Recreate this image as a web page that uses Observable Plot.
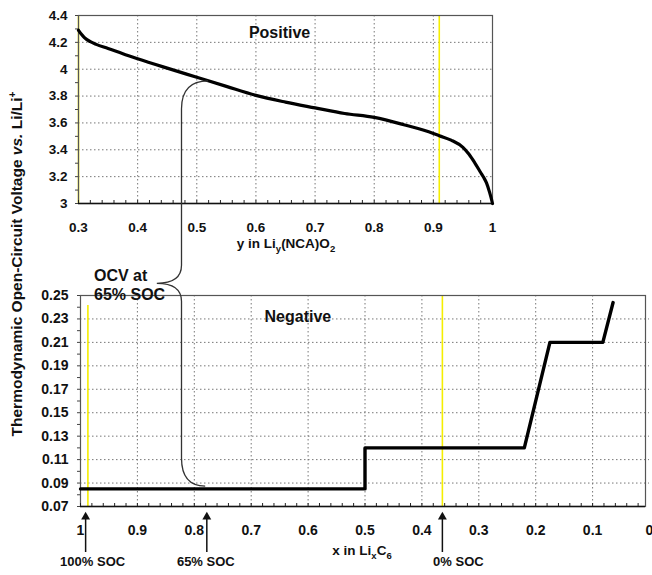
<!DOCTYPE html>
<html><head><meta charset="utf-8">
<script src="https://cdn.jsdelivr.net/npm/d3@7"></script>
<script src="https://cdn.jsdelivr.net/npm/@observablehq/plot@0.6"></script>
<style>
body{margin:0;background:#fff;}
#wrap{position:relative;width:652px;height:575px;font-family:"Liberation Sans",Arial,sans-serif;}
#wrap svg{position:absolute;left:0;}
</style></head><body><div id="wrap"></div>
<script>
// ---- Positive electrode (top) ----
const posY = [0.3, 0.305, 0.31, 0.32, 0.33, 0.35, 0.375, 0.4, 0.45, 0.5, 0.55, 0.6, 0.65, 0.7, 0.75, 0.8, 0.85, 0.9, 0.91, 0.93, 0.95, 0.96, 0.97, 0.98, 0.985, 0.99, 0.995, 0.9975, 1.0];
const posV = [4.29, 4.26, 4.235, 4.205, 4.185, 4.155, 4.115, 4.078, 4.008, 3.94, 3.872, 3.805, 3.755, 3.712, 3.67, 3.641, 3.587, 3.522, 3.505, 3.472, 3.418, 3.368, 3.303, 3.231, 3.195, 3.152, 3.085, 3.045, 3.0];
// ---- Negative electrode (bottom) ----
const negX = [1.0, 0.5, 0.5, 0.22, 0.175, 0.082, 0.064];
const negV = [0.085, 0.085, 0.12, 0.12, 0.21, 0.21, 0.244];
// ---- ticks ----
const topXTicks = [0.3, 0.4, 0.5, 0.6, 0.7, 0.8, 0.9, 1];
const topYTicks = [3, 3.2, 3.4, 3.6, 3.8, 4, 4.2, 4.4];
const botXTicks = [1, 0.9, 0.8, 0.7, 0.6, 0.5, 0.4, 0.3, 0.2, 0.1, 0];
const botYTicks = [0.07, 0.09, 0.11, 0.13, 0.15, 0.17, 0.19, 0.21, 0.23, 0.25];
// ---- markers ----
const topYellowX = [0.3, 0.91];
const botYellowX = [0.987, 0.364];
const botYellowTop = [0.2415, 0.25];
const socX = [0.991, 0.778, 0.364];
const socLabels = ["100% SOC", "65% SOC", "0% SOC"];
const panelTitles = ["Positive", "Negative"];

const fmt = d => String(+d.toFixed(2));
const topMinorX = d3.range(0.3, 1.0001, 0.02).map(d => +d.toFixed(3));
const botMinorX = d3.range(0.02, 1.0001, 0.02).map(d => +d.toFixed(3));
const topMinorY = d3.range(3, 4.4001, 0.1).map(d => +d.toFixed(3));
const botMinorY = d3.range(0.07, 0.2501, 0.01).map(d => +d.toFixed(3));

const gridOpts = {stroke: "#777", strokeOpacity: 1, strokeWidth: 1, strokeDasharray: "1.5,2.5"};
const font = "Liberation Sans, Arial, sans-serif";
const W = 652;

const posData = posY.map((y, i) => ({y, v: posV[i]}));
const negData = negX.map((x, i) => ({x, v: negV[i]}));

const topLab = {fontSize: 13.5, fontWeight: "bold", fontFamily: font, fill: "#111"};
const botLab = {fontSize: 14, fontWeight: "bold", fontFamily: font, fill: "#111"};

const topPlot = Plot.plot({
  width: W, height: 270, marginLeft: 78, marginRight: 160, marginTop: 15, marginBottom: 67,
  style: {fontFamily: font, fontWeight: "bold", fontSize: "13.5px", background: "transparent", color: "#111", overflow: "visible"},
  x: {domain: [0.3, 1], axis: null, label: null},
  y: {domain: [3, 4.4], axis: null, label: null},
  marks: [
    Plot.gridX(topXTicks.slice(1, -1), gridOpts),
    Plot.gridY(topYTicks.slice(1, -1), gridOpts),
    Plot.ruleX(topYellowX, {stroke: "#f5ee00", strokeWidth: 1.6}),
    Plot.frame({stroke: "#555", strokeWidth: 1.2}),
    Plot.ruleY([3], {stroke: "#111", strokeWidth: 1.6}),
    Plot.axisX(topMinorX, {tickSize: 3, dy: -3, tickFormat: () => "", stroke: "#222"}),
    Plot.axisX(topXTicks, {tickSize: 0, tickPadding: 19, tickFormat: fmt, ...topLab}),
    Plot.axisY(topMinorY, {tickSize: 3, tickFormat: () => "", stroke: "#444"}),
    Plot.axisY(topYTicks, {tickSize: 0, tickPadding: 11, tickFormat: fmt, ...topLab}),
    Plot.line(posData, {x: "y", y: "v", stroke: "#000", strokeWidth: 3.2, curve: "monotone-x"}),
    Plot.text([panelTitles[0]], {x: 0.64, y: 4.273, fontSize: 16, fontWeight: "bold", fill: "#111"})
  ]
});

const botPlot = Plot.plot({
  width: W, height: 305, marginLeft: 80, marginRight: 3, marginTop: 25, marginBottom: 69,
  style: {fontFamily: font, fontWeight: "bold", fontSize: "14px", background: "transparent", color: "#111", overflow: "visible"},
  x: {domain: [1, 0], axis: null, label: null},
  y: {domain: [0.07, 0.25], axis: null, label: null},
  marks: [
    Plot.gridX(botXTicks.slice(1, -1), gridOpts),
    Plot.gridY(botYTicks.slice(1, -1), gridOpts),
    Plot.ruleX(botYellowX.map((x, i) => ({x, top: botYellowTop[i]})), {x: "x", y1: 0.07, y2: "top", stroke: "#f5ee00", strokeWidth: 1.6}),
    Plot.frame({stroke: "#555", strokeWidth: 1.2, insetRight: 4}),
    Plot.ruleY([0.07], {stroke: "#111", strokeWidth: 1.6, insetRight: 4}),
    Plot.axisX(botMinorX, {tickSize: 3, dy: -3, tickFormat: () => "", stroke: "#222"}),
    Plot.axisX(botXTicks, {tickSize: 0, tickPadding: 19, tickFormat: fmt, ...botLab}),
    Plot.axisY(botMinorY, {tickSize: 3, tickFormat: () => "", stroke: "#444"}),
    Plot.axisY(botYTicks, {tickSize: 0, tickPadding: 12, tickFormat: fmt, ...botLab}),
    Plot.line(negData, {x: "x", y: "v", stroke: "#000", strokeWidth: 3.4}),
    Plot.text([panelTitles[1]], {x: 0.618, y: 0.232, fontSize: 16, fontWeight: "bold", fill: "#111"}),
    // SOC arrows
    Plot.ruleX(socX, {insetTop: 221, insetBottom: -46, stroke: "#111", strokeWidth: 1.5}),
    Plot.dot(socX, {x: d => d, frameAnchor: "bottom", dy: 10.5, symbol: "triangle", r: 3.3, fill: "#111", stroke: "none"}),
    ...socLabels.map((lab, i) => Plot.text([lab], {x: socX[i], frameAnchor: "bottom", dy: 59, dx: [7, -1, 16][i], fontSize: 13, fontWeight: "bold", fill: "#111"}))
  ]
});

const wrap = document.getElementById("wrap");
topPlot.style.top = "0px";
botPlot.style.top = "270px";
wrap.appendChild(topPlot);
wrap.appendChild(botPlot);

// overlay: shared y label, x labels with subscripts, brace annotation
const tx = topPlot.scale("x"), ty = topPlot.scale("y");
const bx = botPlot.scale("x"), by = botPlot.scale("y");
const A = [tx.apply(0.52), ty.apply(3.91)];
const X = tx.apply(0.475);
const T = [bx.apply(0.865), by.apply(0.26) + 270];
const B = [bx.apply(0.78), by.apply(0.087) + 270];

const ov = d3.select(wrap).append("svg")
  .attr("width", W).attr("height", 575)
  .style("top", "0px").style("pointer-events", "none")
  .style("font-family", font).style("font-weight", "bold");

const p = d3.path();
p.moveTo(A[0], A[1]);
p.quadraticCurveTo(X, A[1], X, A[1] + 28);
p.lineTo(X, T[1] - 18);
p.quadraticCurveTo(X, T[1], T[0], T[1]);
p.quadraticCurveTo(X, T[1], X, T[1] + 18);
p.lineTo(X, B[1] - 28);
p.quadraticCurveTo(X, B[1], B[0], B[1]);
ov.append("path").attr("d", p.toString()).attr("fill", "none").attr("stroke", "#333").attr("stroke-width", 1.3);

ov.append("text").attr("x", 94).attr("y", 281).attr("font-size", 16).attr("fill", "#111").text("OCV at");
ov.append("text").attr("x", 94).attr("y", 300).attr("font-size", 16).attr("fill", "#111").text("65% SOC");

// y label
const yl = ov.append("text").attr("transform", "translate(22,264) rotate(-90)")
  .attr("text-anchor", "middle").attr("font-size", 15.5).attr("fill", "#111");
yl.append("tspan").text("Thermodynamic Open-Circuit Voltage ");
yl.append("tspan").attr("font-style", "italic").text("vs.");
yl.append("tspan").text(" Li/Li");
yl.append("tspan").attr("font-size", 10).attr("dy", -6).text("+");

// top x label
const xl1 = ov.append("text").attr("x", 286).attr("y", 248).attr("text-anchor", "middle").attr("font-size", 13.5).attr("fill", "#111");
xl1.append("tspan").text("y in Li");
xl1.append("tspan").attr("font-size", 9.5).attr("dy", 4).text("y");
xl1.append("tspan").attr("dy", -4).text("(NCA)O");
xl1.append("tspan").attr("font-size", 9.5).attr("dy", 4).text("2");

// bottom x label
const xl2 = ov.append("text").attr("x", 362).attr("y", 555).attr("text-anchor", "middle").attr("font-size", 13.5).attr("fill", "#111");
xl2.append("tspan").text("x in Li");
xl2.append("tspan").attr("font-size", 9.5).attr("dy", 4).text("x");
xl2.append("tspan").attr("dy", -4).text("C");
xl2.append("tspan").attr("font-size", 9.5).attr("dy", 4).text("6");
</script></body></html>
